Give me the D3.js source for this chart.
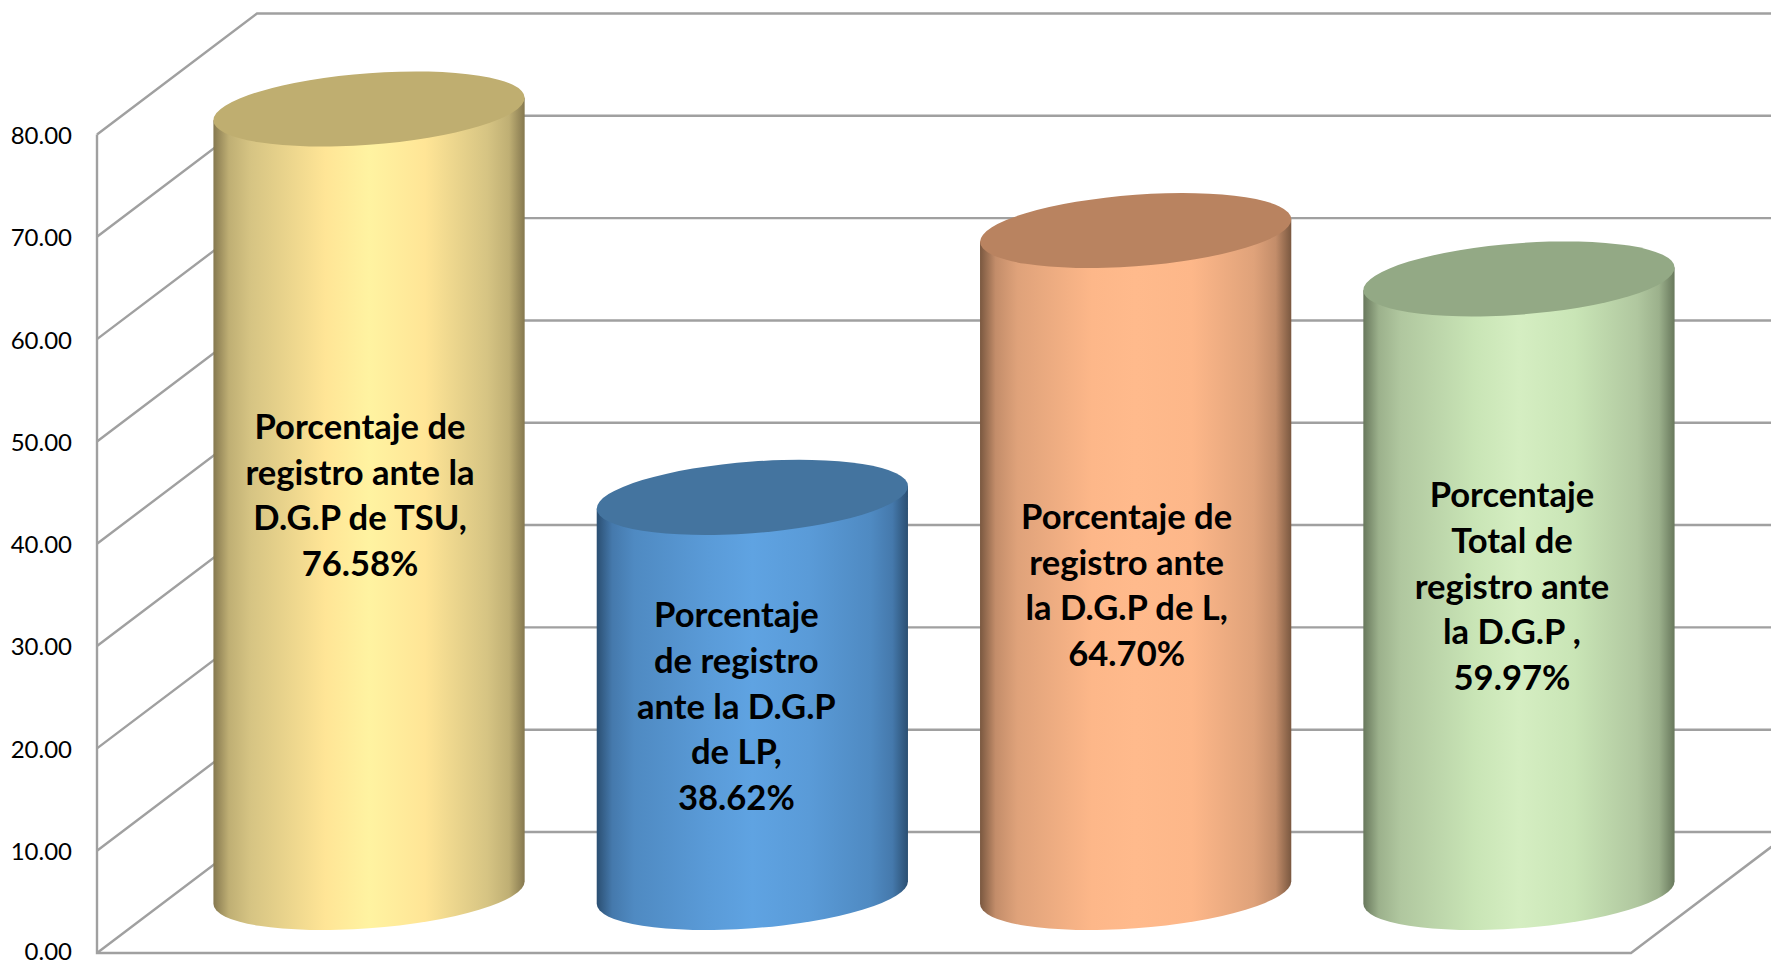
<!DOCTYPE html>
<html><head><meta charset="utf-8">
<script src="https://cdn.jsdelivr.net/npm/d3@7"></script>
<style>
html,body{margin:0;padding:0;background:#fff;overflow:hidden}
svg{display:block}
text{font-family:Lato,Carlito,Calibri,sans-serif;fill:#000}
.tick text{font-size:24px}
.lab{font-size:34.6px;font-weight:700;text-anchor:middle}
</style></head><body>
<div id="chart"></div>
<script>
const categories = ["TSU","LP","L","Total"];
const values = [76.58,38.62,64.70,59.97];
const labelLines = [
  ["Porcentaje de","registro ante la","D.G.P de TSU,","76.58%"],
  ["Porcentaje","de registro","ante la D.G.P","de LP,","38.62%"],
  ["Porcentaje de","registro ante","la D.G.P de L,","64.70%"],
  ["Porcentaje","Total de","registro ante","la D.G.P ,","59.97%"]
];
const tickValues = [0,10,20,30,40,50,60,70,80];
const edgeColors = ["#85784f","#2b4f72","#7a5840","#68785c"];
const shoulderColors = ["#d6c483","#4f8ac2","#dfa27a","#b0c79f"];
const midColors = ["#ffe596","#5a9bd8","#fdb789","#c9e5b6"];
const lightColors = ["#fff3a1","#5fa3e2","#ffba8c","#d5eec2"];
const capColors = ["#bfae70","#44749f","#b98360","#93a985"];

const W = 1771, H = 964;
const depthX = 160, depthY = 121;
const y = d3.scaleLinear().domain([0,80]).range([953,134.5]);
const x = d3.scaleBand().domain(categories).range([97,1631]).paddingInner(0.188).paddingOuter(0.095);
const labelDx = [-9,-16,-9,-7];
const labelCy = [495,706,585,586];

const svg = d3.select("#chart").append("svg").attr("width",W).attr("height",H);
const defs = svg.append("defs");
categories.forEach((c,i)=>{
  const g = defs.append("linearGradient").attr("id","g"+i).attr("x1",0).attr("x2",1).attr("y1",0).attr("y2",0);
  const near = d3.interpolateRgb(edgeColors[i],shoulderColors[i])(.72);
  [[0,edgeColors[i]],[.05,near],[.12,shoulderColors[i]],
   [.36,midColors[i]],[.5,lightColors[i]],[.68,midColors[i]],[.88,shoulderColors[i]],[.95,near],[1,edgeColors[i]]]
   .forEach(s=>g.append("stop").attr("offset",s[0]).attr("stop-color",s[1]));
});

const grid = svg.append("g").attr("fill","none").attr("stroke","#a0a0a0").attr("stroke-width",2.4);
const x0 = x.range()[0], x1 = x.range()[1];
tickValues.forEach(v=>{
  grid.append("path").attr("d",`M${x0},${y(v)}L${x0+depthX},${y(v)-depthY}L${W+2},${y(v)-depthY}`);
});
grid.append("path").attr("d",`M${x0},${y(80)}L${x0},${y(0)}L${x1},${y(0)}L${x1+depthX},${y(0)-depthY}`);

svg.append("g").attr("transform",`translate(${x0},0)`)
  .call(d3.axisLeft(y).tickValues(tickValues).tickFormat(d3.format(".2f")).tickSize(0).tickPadding(25))
  .call(g=>g.select(".domain").remove())
  .call(g=>g.selectAll("text").attr("dy",d=>d===0?"0.29em":"0.37em"));

const shear = 0.0727;
const a = x.bandwidth()/2, b = 35.8;
const bars = svg.append("g").selectAll("g").data(categories).join("g")
  .attr("transform",(c)=>`matrix(1,${-shear},0,1,${x(c)+a+depthX/2},${y(0)-depthY/2})`);
bars.each(function(c,i){
  const h = y(0)-y(values[i]);
  const s = d3.select(this);
  s.append("path")
    .attr("d",`M${-a},${-h}L${-a},0A${a},${b} 0 0 0 ${a},0L${a},${-h}Z`)
    .attr("fill",`url(#g${i})`);
  s.append("ellipse").attr("cx",0).attr("cy",-h).attr("rx",a).attr("ry",b).attr("fill",capColors[i]);
});

const lh = 45.6;
categories.forEach((c,i)=>{
  const lines = labelLines[i];
  const cx = x(c)+a+depthX/2+labelDx[i];
  const t = svg.append("text").attr("class","lab");
  lines.forEach((l,k)=>{
    t.append("tspan").attr("x",cx)
     .attr("y",labelCy[i]+(k-(lines.length-1)/2)*lh+12.5).text(l);
  });
});
</script></body></html>
